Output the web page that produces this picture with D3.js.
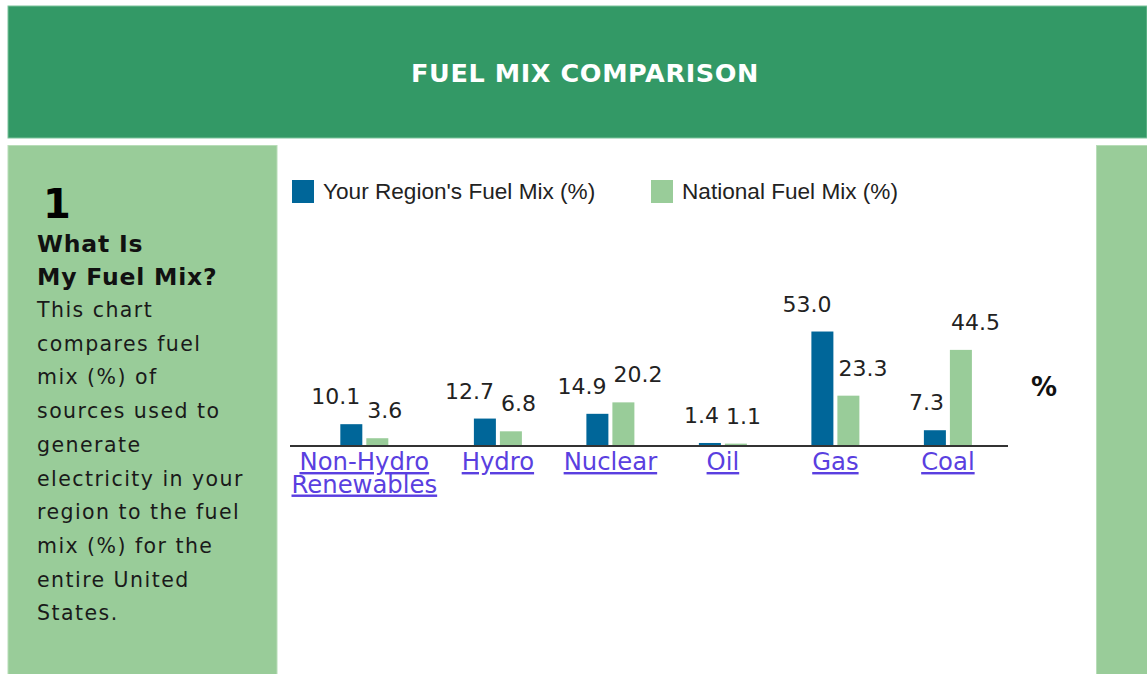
<!DOCTYPE html>
<html>
<head>
<meta charset="utf-8">
<script src="https://cdn.jsdelivr.net/npm/d3@7"></script>
<style>
  body { margin: 0; background: #fff; }
  svg { display: block; }
  .txt { font-family: "DejaVu Sans", Verdana, sans-serif; }
</style>
</head>
<body>
<div class="chart"></div>
<script>
var width = 1147,
    height = 674;

// data
var categories = ["Non-Hydro Renewables", "Hydro", "Nuclear", "Oil", "Gas", "Coal"];
var regionMix = [10.1, 12.7, 14.9, 1.4, 53.0, 7.3];
var nationalMix = [3.6, 6.8, 20.2, 1.1, 23.3, 44.5];
var seriesNames = ["Your Region's Fuel Mix (%)", "National Fuel Mix (%)"];
var seriesColors = ["#006699", "#99cc99"];
var introLines = ["This chart", "compares fuel", "mix (%) of", "sources used to", "generate",
    "electricity in your", "region to the fuel", "mix (%) for the", "entire United", "States."];

var svg = d3.select(".chart")
    .append("svg")
    .attr("width", width)
    .attr("height", height);

// header band
svg.append("rect")
    .attr("x", 8).attr("y", 6)
    .attr("width", width - 8).attr("height", 132)
    .attr("fill", "#339966")
    .attr("stroke", "#7cc49c").attr("stroke-width", 1);

svg.append("text")
    .attr("class", "txt")
    .attr("x", 585).attr("y", 82)
    .attr("text-anchor", "middle")
    .style("font-size", "25.5px")
    .style("font-weight", "bold")
    .style("letter-spacing", "0.6px")
    .attr("fill", "#fff")
    .text("FUEL MIX COMPARISON");

// side panels
svg.append("rect")
    .attr("x", 8).attr("y", 145.5)
    .attr("width", 269).attr("height", height - 145)
    .attr("fill", "#99cc99")
    .attr("stroke", "#b8ddb8").attr("stroke-width", 1);

svg.append("rect")
    .attr("x", 1096.5).attr("y", 145.5)
    .attr("width", 60).attr("height", height - 145)
    .attr("fill", "#99cc99")
    .attr("stroke", "#b8ddb8").attr("stroke-width", 1);

var side = svg.append("g").attr("class", "txt");

side.append("text")
    .attr("x", 43).attr("y", 218)
    .style("font-size", "40px").style("font-weight", "bold")
    .attr("fill", "#000")
    .text("1");

side.selectAll("text.head")
    .data(["What Is", "My Fuel Mix?"])
    .enter().append("text")
    .attr("class", "head")
    .attr("x", 37)
    .attr("y", function (d, i) { return 252 + i * 33; })
    .style("font-size", "23.5px").style("font-weight", "bold")
    .style("letter-spacing", "0.8px")
    .attr("fill", "#111")
    .text(function (d) { return d; });

side.selectAll("text.body")
    .data(introLines)
    .enter().append("text")
    .attr("class", "body")
    .attr("x", 37)
    .attr("y", function (d, i) { return 317 + i * 33.7; })
    .style("font-size", "20.5px")
    .style("letter-spacing", "1.45px")
    .attr("fill", "#1a1a1a")
    .text(function (d) { return d; });

// legend
var legend = svg.append("g")
    .selectAll("g")
    .data(seriesNames)
    .enter().append("g")
    .attr("transform", function (d, i) { return "translate(" + (292 + i * 359) + ",180)"; });

legend.append("rect")
    .attr("width", 22).attr("height", 23)
    .attr("fill", function (d, i) { return seriesColors[i]; });

legend.append("text")
    .attr("x", 31).attr("y", 19)
    .style("font-family", "'Liberation Sans', Arial, sans-serif")
    .style("font-size", "22.6px")
    .attr("fill", "#222")
    .text(function (d) { return d; });

// category labels first, so their widths can size the columns
var labelG = svg.append("g").attr("class", "txt");

var labels = labelG.selectAll("g")
    .data(categories)
    .enter().append("g");

labels.selectAll("text")
    .data(function (d) { return d.split(" "); })
    .enter().append("text")
    .attr("y", function (d, i) { return 470 + i * 22.5; })
    .attr("text-anchor", "middle")
    .style("font-size", "24.3px")
    .style("text-decoration", "underline")
    .attr("fill", "#5a3fe0")
    .text(function (d) { return d; });

var minCol = 112.5, colPad = 9, left = 287;
var colWidths = [];
labels.each(function () {
    var w = 0;
    d3.select(this).selectAll("text").each(function () {
        w = Math.max(w, this.getComputedTextLength());
    });
    colWidths.push(Math.max(minCol, w + colPad));
});

var centers = [], acc = left;
colWidths.forEach(function (w) {
    centers.push(acc + w / 2);
    acc += w;
});

var x = d3.scaleOrdinal()
    .domain(categories)
    .range(centers);

var y = d3.scaleLinear()
    .domain([0, 100])
    .range([446, 230]);

labels.attr("transform", function (d) { return "translate(" + x(d) + ",0)"; });

var barW = 22, gap = 4;

var groups = svg.append("g")
    .selectAll("g")
    .data(categories)
    .enter().append("g")
    .attr("transform", function (d) { return "translate(" + x(d) + ",0)"; });

// region bars
groups.append("rect")
    .attr("x", -gap / 2 - barW)
    .attr("y", function (d, i) { return y(regionMix[i]); })
    .attr("width", barW)
    .attr("height", function (d, i) { return y(0) - y(regionMix[i]); })
    .attr("fill", seriesColors[0]);

// national bars
groups.append("rect")
    .attr("x", gap / 2)
    .attr("y", function (d, i) { return y(nationalMix[i]); })
    .attr("width", barW)
    .attr("height", function (d, i) { return y(0) - y(nationalMix[i]); })
    .attr("fill", seriesColors[1]);

groups.append("text")
    .attr("class", "txt")
    .attr("x", -gap / 2 - 2)
    .attr("y", function (d, i) { return y(regionMix[i]) - 20; })
    .attr("text-anchor", "end")
    .style("font-size", "22px")
    .attr("fill", "#222")
    .text(function (d, i) { return regionMix[i].toFixed(1); });

groups.append("text")
    .attr("class", "txt")
    .attr("x", gap / 2 + 1)
    .attr("y", function (d, i) { return y(nationalMix[i]) - 20; })
    .style("font-size", "22px")
    .attr("fill", "#222")
    .text(function (d, i) { return nationalMix[i].toFixed(1); });

// baseline
svg.append("line")
    .attr("x1", 290).attr("x2", 1008)
    .attr("y1", y(0)).attr("y2", y(0))
    .attr("stroke", "#333")
    .attr("stroke-width", 2);

svg.append("text")
    .attr("class", "txt")
    .attr("x", 1031).attr("y", 396)
    .style("font-size", "26px").style("font-weight", "bold")
    .attr("fill", "#111")
    .text("%");
</script>
</body>
</html>
